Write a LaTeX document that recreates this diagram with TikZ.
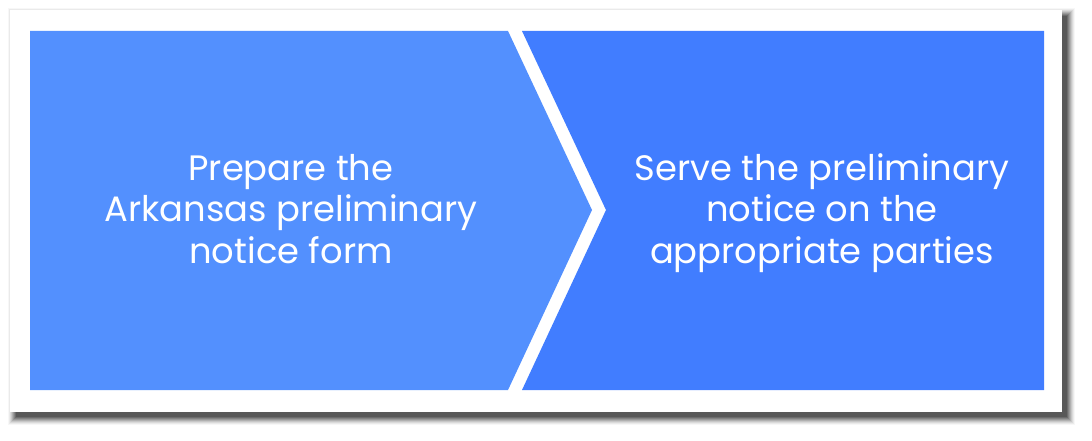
\documentclass[tikz,border=0pt]{standalone}
\usepackage{fontspec}
\setmainfont{Poppins}
\definecolor{stepA}{RGB}{83,144,254}
\definecolor{stepB}{RGB}{65,125,255}
\begin{document}
\begin{tikzpicture}[x=1pt,y=-1pt,
  steptext/.style={text=white,align=center,inner sep=0pt,font=\fontsize{35.3}{41.5}\selectfont},
  stepshape/.style={draw=none}]
\useasboundingbox (0,0) rectangle (1092,441);
% shadow
\foreach \k in {0,...,8}{
  \pgfmathsetmacro{\op}{0.19-0.02*\k}
  \fill[black,opacity=\op] (16-\k,16-\k) rectangle (1067+\k,417+\k);
}
% card
\fill[white] (10,10) rectangle (1062,412);
% chevrons
\fill[stepA,stepshape] (30,31) -- (508,31) -- (592,210) -- (508,390) -- (30,390) -- cycle;
\fill[stepB,stepshape] (522,31) -- (1044,31) -- (1044,390) -- (522,390) -- (606,210) -- cycle;
\node[steptext] (s1) at (291,209) {Prepare the\\Arkansas preliminary\\notice form};
\node[steptext] (s2) at (822,213) {Serve the preliminary\\notice on the\\appropriate parties};
\end{tikzpicture}
\end{document}
